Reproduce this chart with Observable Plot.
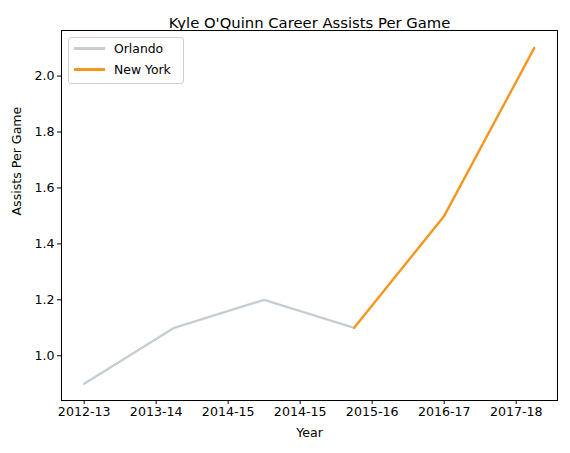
<!DOCTYPE html>
<html><head><meta charset="utf-8">
<script src="https://cdn.jsdelivr.net/npm/d3@7"></script>
<script src="https://cdn.jsdelivr.net/npm/@observablehq/plot@0.6"></script>
<style>
body{margin:0;background:#fff;font-family:"DejaVu Sans",sans-serif;}
#wrap{position:relative;width:570px;height:453px;}
#legend{position:absolute;left:68px;top:37px;width:114px;height:45px;border:1px solid #d0d0d0;border-radius:3px;background:#fff;font-size:12.4px;color:#000;}
#legend div{position:absolute;left:5px;display:flex;align-items:center;}
#legend span.sw{display:inline-block;width:31px;height:2.4px;margin-right:9px;}
</style></head><body>
<div id="wrap"><div id="plot"></div>
<div id="legend">
<div style="top:3px"><span class="sw" style="background:#c4ced4"></span>Orlando</div>
<div style="top:24px"><span class="sw" style="background:#f5961f"></span>New York</div>
</div></div>
<script>
const orlandoIdx = [0, 1, 2, 3];
const orlandoApg = [0.9, 1.1, 1.2, 1.1];
const nyIdx = [3, 4, 5];
const nyApg = [1.1, 1.5, 2.1];
const tickLabels = ["2012-13", "2013-14", "2014-15", "2014-15", "2015-16", "2016-17", "2017-18"];
const tickPos = [0, 0.8, 1.6, 2.4, 3.2, 4.0, 4.8];

const orlando = orlandoIdx.map((x, i) => ({x, y: orlandoApg[i]}));
const ny = nyIdx.map((x, i) => ({x, y: nyApg[i]}));

const plot = Plot.plot({
  width: 570, height: 453,
  marginLeft: 61, marginRight: 13, marginTop: 30, marginBottom: 53,
  style: {fontFamily: "DejaVu Sans", fontSize: "12.4px", color: "#000"},
  x: {domain: [-0.252, 5.259], label: null},
  y: {domain: [0.84, 2.163], label: null},
  marks: [
    Plot.axisX({ticks: tickPos, tickFormat: (d, i) => tickLabels[i], tickSize: 4, tickPadding: 3, label: null, fontSize: 12.6}),
    Plot.axisY({ticks: [1.0, 1.2, 1.4, 1.6, 1.8, 2.0], tickFormat: d3.format(".1f"), tickSize: 4, tickPadding: 3, label: null, fontSize: 12.6}),
    Plot.frame({stroke: "#000", strokeWidth: 1}),
    Plot.line(orlando, {x: "x", y: "y", stroke: "#c4ced4", strokeWidth: 2.4}),
    Plot.line(ny, {x: "x", y: "y", stroke: "#f5961f", strokeWidth: 2.4}),
    Plot.text(["Kyle O'Quinn Career Assists Per Game"], {frameAnchor: "top", dy: -13, fontSize: 14.8}),
    Plot.text(["Year"], {frameAnchor: "bottom", dy: 36, fontSize: 12.6}),
    Plot.text(["Assists Per Game"], {frameAnchor: "left", dx: -45, rotate: -90, fontSize: 12.6})
  ]
});
document.getElementById("plot").appendChild(plot);
</script></body></html>
